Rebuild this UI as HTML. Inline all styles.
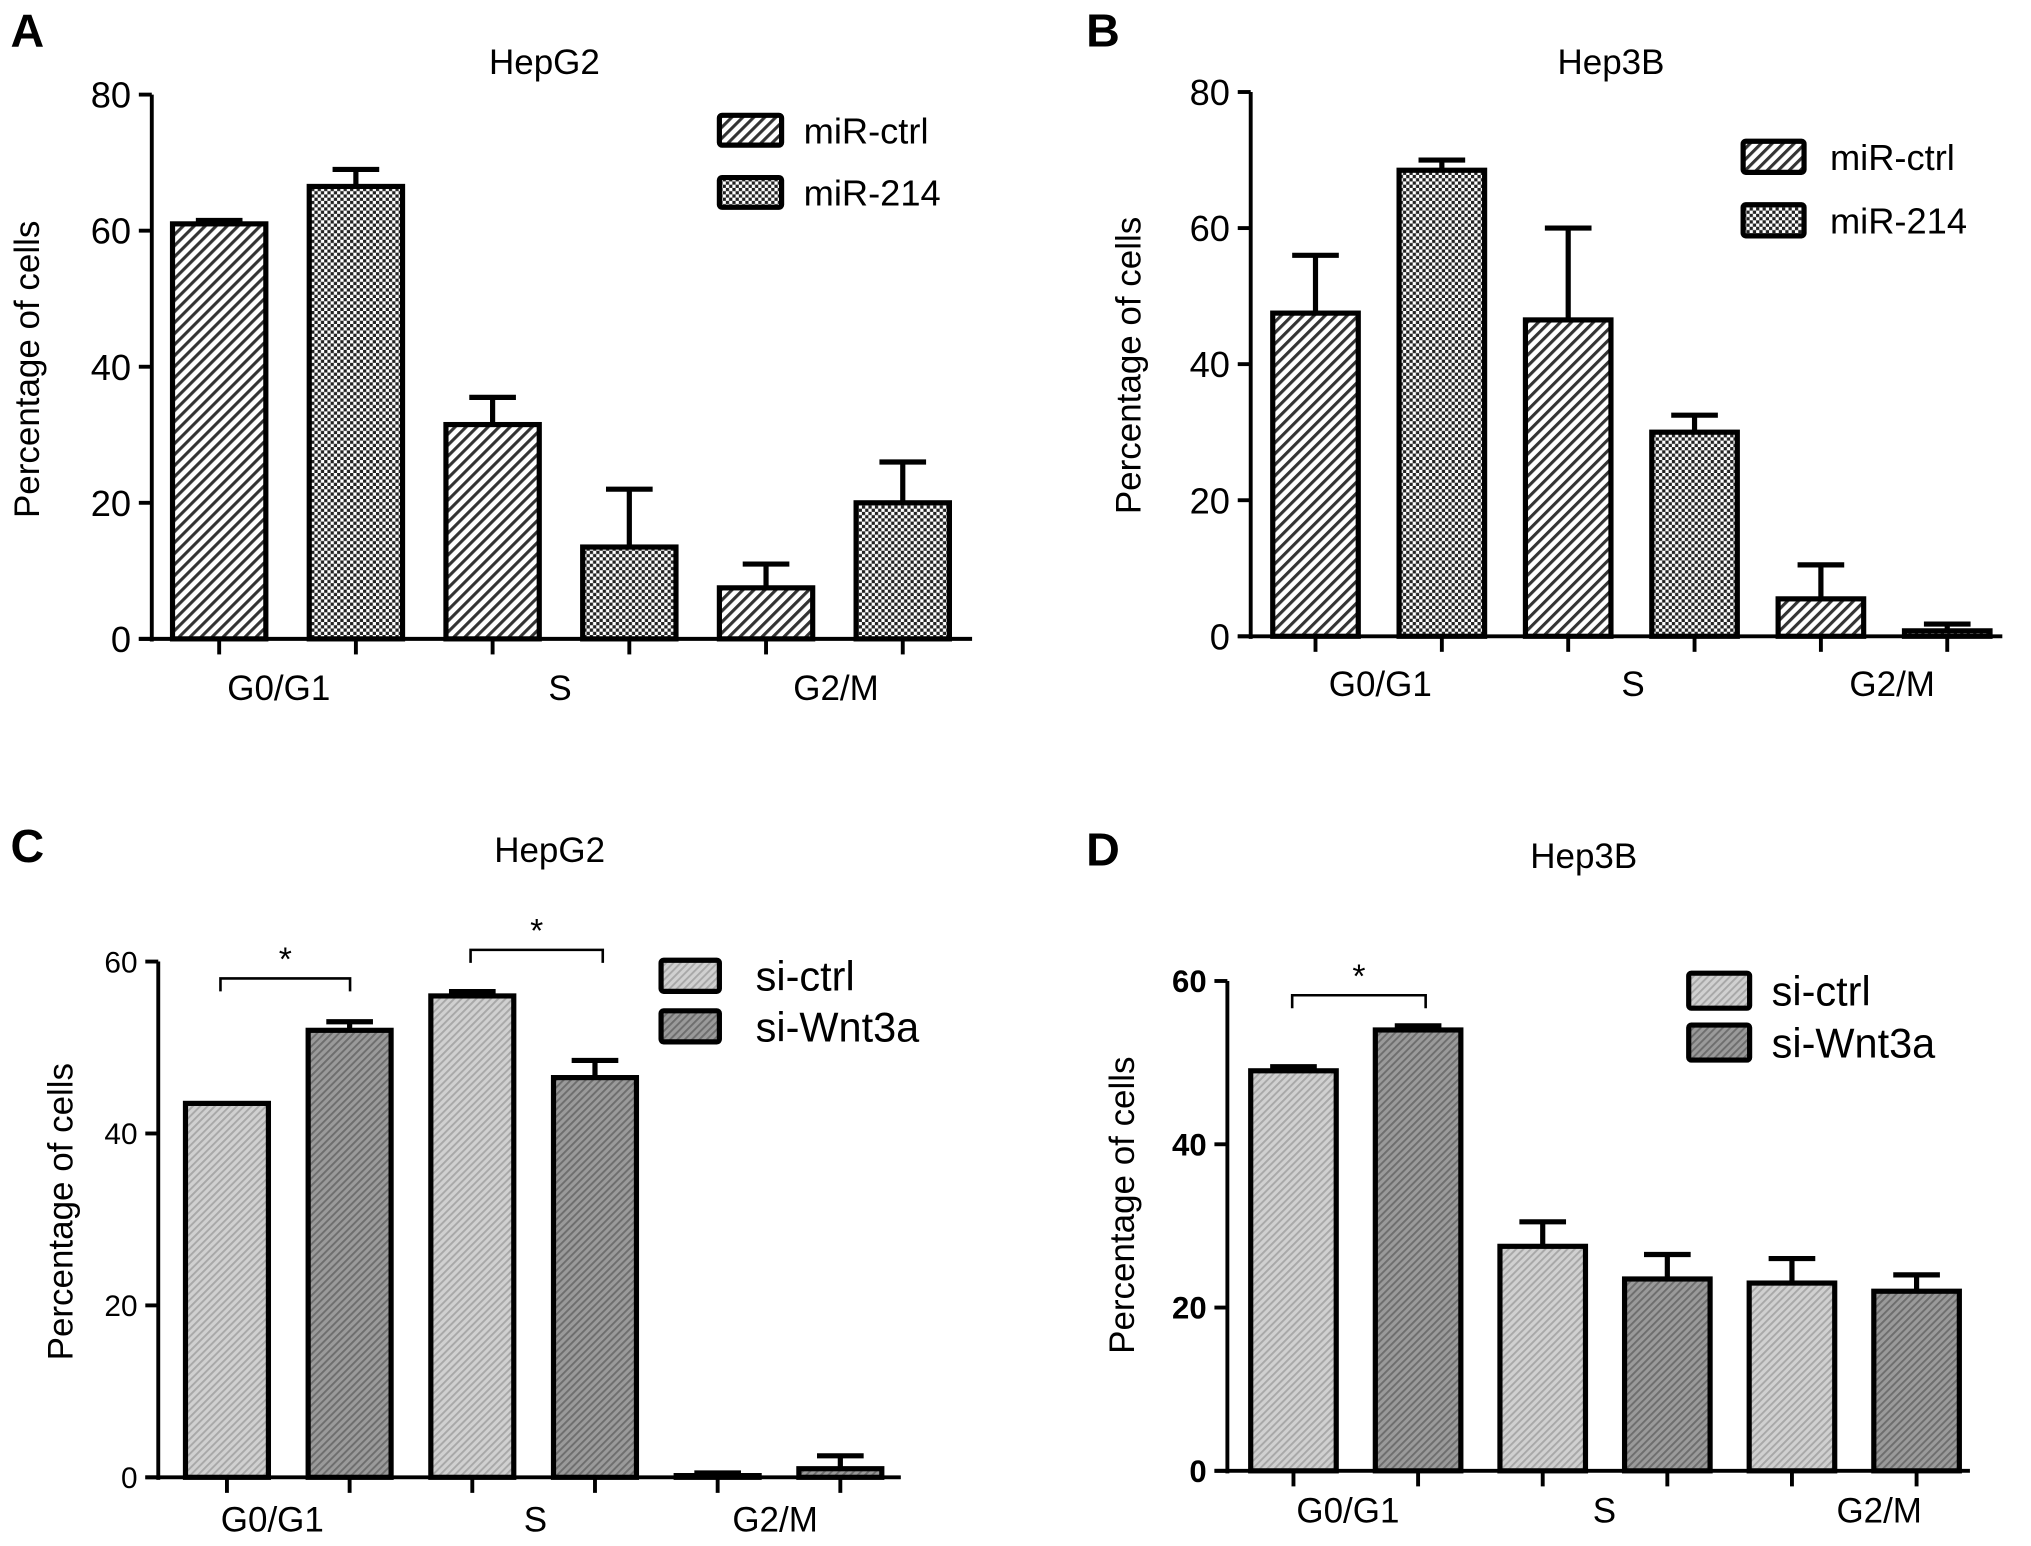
<!DOCTYPE html>
<html><head><meta charset="utf-8"><style>html,body{margin:0;padding:0;background:#fff}svg{display:block}</style></head>
<body>
<svg id="fig" width="2031" height="1546" viewBox="0 0 1567 1193" xmlns="http://www.w3.org/2000/svg" font-family="Liberation Sans, sans-serif">
<defs>
<pattern id="hatch" patternUnits="userSpaceOnUse" width="6" height="6" patternTransform="rotate(45)"><rect width="6" height="6" fill="#fff"/><rect width="2.4" height="6" fill="#333"/></pattern>
<pattern id="check" patternUnits="userSpaceOnUse" width="5" height="5"><rect width="5" height="5" fill="#fff"/><rect width="2.5" height="2.5" fill="#222"/><rect x="2.5" y="2.5" width="2.5" height="2.5" fill="#222"/></pattern>
<pattern id="light" patternUnits="userSpaceOnUse" width="4" height="4" patternTransform="rotate(45)"><rect width="4" height="4" fill="#d0d0d0"/><rect width="1.5" height="4" fill="#a8a8a8"/></pattern>
<pattern id="dark" patternUnits="userSpaceOnUse" width="4" height="4" patternTransform="rotate(45)"><rect width="4" height="4" fill="#9a9a9a"/><rect width="1.5" height="4" fill="#6e6e6e"/></pattern>
</defs>
<g id="root"></g>
</svg>
<script>
// Panel A (HepG2, miR)
const categories = ["G0/G1", "S", "G2/M"];
const aCtrl = [61, 31.5, 7.5];
const aCtrlErr = [0.5, 4, 3.5];
const a214 = [66.5, 13.5, 20];
const a214Err = [2.5, 8.5, 6];
// Panel B (Hep3B, miR)
const bCtrl = [47.5, 46.5, 5.5];
const bCtrlErr = [8.5, 13.5, 5];
const b214 = [68.5, 30, 0.8];
const b214Err = [1.5, 2.5, 1];
// Panel C (HepG2, si)
const cCtrl = [43.5, 56, 0.2];
const cCtrlErr = [0, 0.5, 0.3];
const cWnt = [52, 46.5, 1];
const cWntErr = [1, 2, 1.5];
// Panel D (Hep3B, si)
const dCtrl = [49, 27.5, 23];
const dCtrlErr = [0.5, 3, 3];
const dWnt = [54, 23.5, 22];
const dWntErr = [0.5, 3, 2];
const ticksAB = [0, 20, 40, 60, 80];
const ticksCD = [0, 20, 40, 60];

const NS = "http://www.w3.org/2000/svg";
const root = document.getElementById('root');
function mk(tag, attrs, parent, text) {
  const e = document.createElementNS(NS, tag);
  for (const k in attrs) e.setAttribute(k, attrs[k]);
  if (text !== undefined) e.textContent = text;
  (parent || root).appendChild(e);
  return e;
}

function panel(cfg) {
  const g = mk('g', {});
  
  
  const y = v => cfg.y0 - (v / cfg.ymax) * (cfg.y0 - cfg.yTop);
  const lt = mk('text', {x: cfg.letter[1], y: cfg.letter[2], 'font-size': 36, 'font-weight': 'bold'}, g, cfg.letter[0]);
  
  
  const t = mk('text', {x: cfg.title[1], y: cfg.title[2], 'font-size': 27, 'text-anchor': 'middle'}, g, cfg.title[0]);
  
  
  const ya = mk('line', {x1: cfg.ax, y1: y(cfg.ymax), x2: cfg.ax, y2: cfg.y0 + 2, stroke: '#000', 'stroke-width': 3}, g);
  
  
  const xa = mk('line', {x1: cfg.ax - 10, y1: cfg.y0, x2: cfg.axEnd, y2: cfg.y0, stroke: '#000', 'stroke-width': 3}, g);
  
  
  cfg.ticks.forEach(v => {
    mk('line', {x1: cfg.ax - 10, y1: y(v), x2: cfg.ax, y2: y(v), stroke: '#000', 'stroke-width': 3}, g);
    const tl = mk('text', {x: cfg.ax - 16, y: y(v) + cfg.tickFs * 0.36, 'font-size': cfg.tickFs, 'font-weight': cfg.tickBold ? 'bold' : 'normal', 'text-anchor': 'end'}, g, String(v));
    
    
  });
  const yt = mk('text', {x: 0, y: 0, 'font-size': 27, 'text-anchor': 'middle', transform: `translate(${cfg.ylab[0]},${cfg.ylab[1]}) rotate(-90)`}, g, 'Percentage of cells');
  
  
  const series = [[cfg.s1, cfg.e1, cfg.f1], [cfg.s2, cfg.e2, cfg.f2]];
  const gw = (cfg.axEnd - cfg.ax - cfg.pad) / categories.length;
  categories.forEach((c, i) => {
    series.forEach((s, j) => {
      const x = cfg.ax + cfg.off + i * gw + j * gw / 2;
      const w = cfg.bw;
      const cx = x + w / 2;
      const v = s[0][i], err = s[1][i];
      if (err > 0) {
        mk('line', {x1: cx, y1: y(v), x2: cx, y2: y(v + err), stroke: '#000', 'stroke-width': 4}, g);
        mk('line', {x1: cx - 18, y1: y(v + err), x2: cx + 18, y2: y(v + err), stroke: '#000', 'stroke-width': 4}, g);
      }
      const r = mk('rect', {x: x, y: y(v), width: w, height: Math.max(cfg.y0 - y(v), 0.5), fill: s[2], stroke: '#000', 'stroke-width': 4}, g);
      
      
      mk('line', {x1: cx, y1: cfg.y0, x2: cx, y2: cfg.y0 + 12, stroke: '#000', 'stroke-width': 3}, g);
    });
    const lbl = mk('text', {x: cfg.xl[i], y: cfg.xlY, 'font-size': 27, 'text-anchor': 'middle'}, g, c);
    
    
  });
  cfg.leg.forEach((l, k) => {
    const lg = mk('g', {}, g);
    
    
    mk('rect', {x: l[1], y: l[2], width: l[3], height: l[4], fill: k ? cfg.f2 : cfg.f1, stroke: '#000', 'stroke-width': 4, rx: 2}, lg);
    mk('text', {x: l[5], y: l[2] + l[4] / 2 + cfg.legFs * 0.36, 'font-size': cfg.legFs}, lg, l[0]);
  });
  (cfg.sig || []).forEach(s => {
    const sg = mk('g', {}, g);
    
    
    mk('path', {d: `M${s[0]},${s[2] + 10} V${s[2]} H${s[1]} V${s[2] + 10}`, fill: 'none', stroke: '#000', 'stroke-width': 2}, sg);
    mk('text', {x: (s[0] + s[1]) / 2, y: s[2] - 6, 'font-size': 26, 'text-anchor': 'middle'}, sg, '*');
  });
}

panel({name: 'panel-a', letter: ['A', 8, 36], title: ['HepG2', 420, 57], ax: 117, axEnd: 750, pad: 0, off: 16, bw: 72, y0: 493, yTop: 73, ymax: 80, ticks: ticksAB, tickFs: 28, tickBold: false, ylab: [30, 285],
  s1: aCtrl, e1: aCtrlErr, s2: a214, e2: a214Err, f1: 'url(#hatch)', f2: 'url(#check)', xl: [215, 432, 645], xlY: 540,
  leg: [['miR-ctrl', 555, 89, 48, 23, 620], ['miR-214', 555, 137, 48, 23, 620]], legFs: 28});
panel({name: 'panel-b', letter: ['B', 838, 36], title: ['Hep3B', 1243, 57], ax: 965, axEnd: 1545, pad: -5, off: 17, bw: 66, y0: 491, yTop: 71, ymax: 80, ticks: ticksAB, tickFs: 28, tickBold: false, ylab: [880, 282],
  s1: bCtrl, e1: bCtrlErr, s2: b214, e2: b214Err, f1: 'url(#hatch)', f2: 'url(#check)', xl: [1065, 1260, 1460], xlY: 537,
  leg: [['miR-ctrl', 1345, 109, 47, 24, 1412], ['miR-214', 1345, 158, 47, 24, 1412]], legFs: 28});
panel({name: 'panel-c', letter: ['C', 8, 665], title: ['HepG2', 424, 665], ax: 122, axEnd: 695, pad: 5, off: 21, bw: 64, y0: 1140, yTop: 742, ymax: 60, ticks: ticksCD, tickFs: 23, tickBold: false, ylab: [56, 935],
  s1: cCtrl, e1: cCtrlErr, s2: cWnt, e2: cWntErr, f1: 'url(#light)', f2: 'url(#dark)', xl: [210, 413, 598], xlY: 1182,
  leg: [['si-ctrl', 510, 741, 45, 24, 583], ['si-Wnt3a', 510, 780, 45, 24, 583]], legFs: 32,
  sig: [[170, 270, 755], [363, 465, 733]]});
panel({name: 'panel-d', letter: ['D', 838, 668], title: ['Hep3B', 1222, 670], ax: 947, axEnd: 1520, pad: -4, off: 18, bw: 66, y0: 1135, yTop: 757, ymax: 60, ticks: ticksCD, tickFs: 24, tickBold: true, ylab: [875, 930],
  s1: dCtrl, e1: dCtrlErr, s2: dWnt, e2: dWntErr, f1: 'url(#light)', f2: 'url(#dark)', xl: [1040, 1238, 1450], xlY: 1175,
  leg: [['si-ctrl', 1303, 751, 47, 27, 1367], ['si-Wnt3a', 1303, 791, 47, 27, 1367]], legFs: 32,
  sig: [[997, 1100, 768]]});
</script>
</body></html>
